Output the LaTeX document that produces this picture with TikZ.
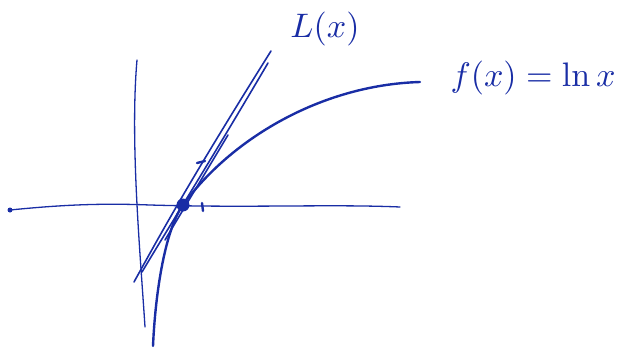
\documentclass[tikz,border=0pt]{standalone}
\usepackage{amsmath}
\usepackage{tikz}
\usetikzlibrary{positioning}
\definecolor{penblue}{RGB}{25,45,165}

\begin{document}
\begin{tikzpicture}[
    x=1pt,
    y=-1pt,
    axis/.style={
        draw=penblue,
        line width=1.3pt,
        line cap=round
    },
    curve/.style={
        draw=penblue,
        line width=2.4pt,
        line cap=round
    },
    tangent/.style={
        draw=penblue,
        line width=1.6pt,
        line cap=round
    },
    label/.style={
        text=penblue,
        scale=3.4
    }
]

    \useasboundingbox (0,0) rectangle (621,353);

    % axes
    \draw[axis]
    (10,210) .. controls (60,205) and (100,203) .. (150,205)
        .. controls (250,208) and (330,204) .. (400,207);
    \fill[penblue] (10,210) circle (2.5);

    \draw[axis]
    (137,60) .. controls (130,140) and (140,250) .. (145,327);

    \draw[axis, line width=2.4pt]
    (202,203) -- (203,211);

    % ln x
    \draw[curve]
    (153,346) .. controls (156,280) and (168,225) .. (183,205)
        .. controls (230,140) and (320,85) .. (420,82);

    % tangent lines
    \draw[tangent]
    (134,282) .. controls (160,235) and (190,180) .. (271,51);
    \draw[tangent]
    (142,272) .. controls (170,225) and (205,170) .. (268,63);
    \draw[tangent]
    (165,240) -- (228,135);
    \draw[tangent, line width=2.4pt]
    (197,163) -- (205,161);

    \fill[penblue] (183,205) circle (6.5);

    \node[label] (Lx) at (325,29) {$L(x)$};
    \node[label] (fx) at (533,78) {$f(x)=\ln x$};

\end{tikzpicture}
\end{document}
